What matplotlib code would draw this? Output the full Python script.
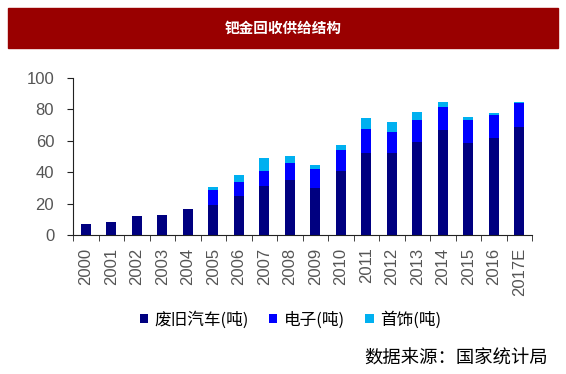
import matplotlib.pyplot as plt
import numpy as np
from matplotlib.patches import Rectangle

plt.rcParams['font.family'] = ['Liberation Sans', 'Noto Sans CJK SC', 'DejaVu Sans']

# 数据
years = ['2000', '2001', '2002', '2003', '2004', '2005', '2006', '2007', '2008',
         '2009', '2010', '2011', '2012', '2013', '2014', '2015', '2016', '2017E']
car = [6.8, 8.5, 11.8, 12.8, 16.7, 18.8, 24.8, 31.2, 35.0,
       29.9, 40.6, 52.4, 52.1, 59.0, 66.7, 58.5, 61.8, 68.6]
electronics = [0, 0, 0, 0, 0, 9.8, 8.7, 9.8, 10.7,
               12.2, 13.4, 15.1, 13.5, 14.3, 15.1, 14.8, 14.9, 15.2]
jewelry = [0, 0, 0, 0, 0, 2.2, 4.5, 7.9, 4.5,
           2.6, 3.5, 6.9, 6.4, 5.3, 2.8, 1.7, 0.9, 0.6]
labels = ['废旧汽车(吨)', '电子(吨)', '首饰(吨)']

fig = plt.figure(figsize=(5.66, 3.74), dpi=100)

# 标题横幅
banner = Rectangle((8 / 566, 1 - 48 / 374), 550 / 566, 40 / 374,
                   transform=fig.transFigure, color='#990000', zorder=0)
fig.patches.append(banner)
fig.text(283 / 566, 1 - 28 / 374, '钯金回收供给结构', color='white', fontsize=10.5,
         fontweight='bold', ha='center', va='center', family='Noto Sans CJK SC')

ax = fig.add_axes([73 / 566, 1 - 235 / 374, (532 - 73) / 566, (235 - 78) / 374])

x = np.arange(len(years))
w = 0.4
car = np.array(car)
electronics = np.array(electronics)
jewelry = np.array(jewelry)
ax.bar(x, car, w, color='#000080', label=labels[0])
ax.bar(x, electronics, w, bottom=car, color='#0000FF', label=labels[1])
ax.bar(x, jewelry, w, bottom=car + electronics, color='#00B0F0', label=labels[2])

tick_col = '#555555'
ax.set_xlim(-0.5, len(years) - 0.5)
ax.set_ylim(0, 100)
ax.set_yticks(np.arange(0, 101, 20))
ax.tick_params(axis='y', labelsize=12, length=4.5, direction='out',
               color='#222222', labelcolor=tick_col, pad=9)
ax.set_xticks(x)
ax.set_xticklabels(years, rotation=90, fontsize=12, color=tick_col)
ax.tick_params(axis='x', length=0, pad=9)
ax.set_xticks(np.arange(-0.5, len(years)), minor=True)
ax.tick_params(axis='x', which='minor', length=4.5, direction='out', color='#222222')

for s in ['top', 'right']:
    ax.spines[s].set_visible(False)
for s in ['left', 'bottom']:
    ax.spines[s].set_color('#222222')

ax.legend(loc='center', bbox_to_anchor=(0.474, -0.54), ncol=3, frameon=False,
          handlelength=0.5, handleheight=0.5, handletextpad=0.4,
          columnspacing=1.2, prop={'family': 'Noto Sans CJK SC', 'size': 12})

fig.text(548 / 566, 1 - 359 / 374, '数据来源：国家统计局', fontsize=13.2,
         ha='right', va='center', family='Noto Sans CJK SC')

plt.savefig('out.png', dpi=100)
